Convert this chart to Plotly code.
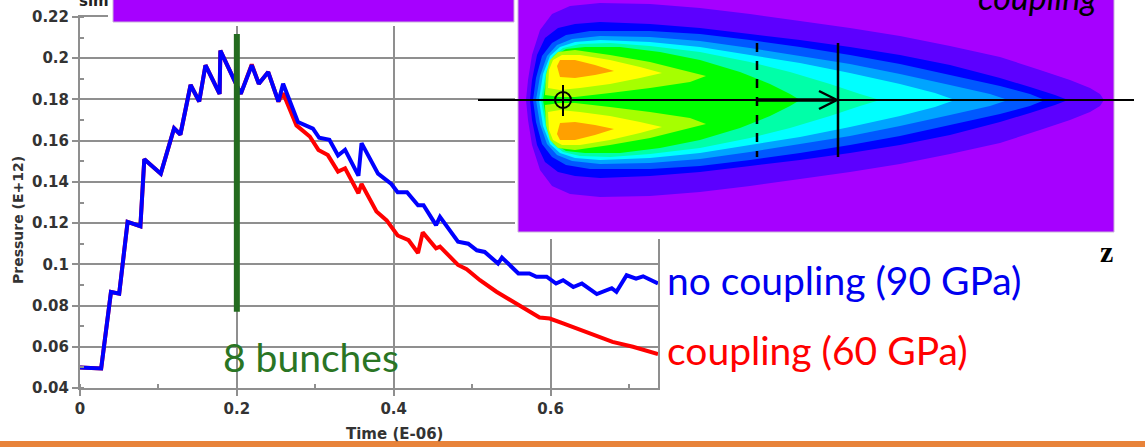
import plotly.graph_objects as go

# ---------------- chart data ----------------
time_no_coupling = [0, 0.027, 0.0395, 0.05, 0.0607, 0.077, 0.082, 0.103, 0.12, 0.128, 0.141, 0.152,
                    0.160, 0.178, 0.179, 0.198, 0.205, 0.219, 0.228, 0.240, 0.253, 0.259, 0.278,
                    0.297, 0.305, 0.318, 0.329, 0.338, 0.355, 0.359, 0.380, 0.397, 0.405, 0.417,
                    0.431, 0.438, 0.454, 0.459, 0.482, 0.495, 0.506, 0.516, 0.533, 0.538, 0.559,
                    0.573, 0.582, 0.595, 0.607, 0.616, 0.629, 0.640, 0.659, 0.678, 0.684, 0.697,
                    0.709, 0.718, 0.737]
pressure_no_coupling = [0.050, 0.0495, 0.0866, 0.0858, 0.1206, 0.1185, 0.151, 0.144, 0.166, 0.163,
                        0.187, 0.179, 0.1966, 0.1827, 0.2037, 0.1876, 0.1827, 0.1966, 0.1876,
                        0.1933, 0.179, 0.1876, 0.169, 0.1658, 0.1614, 0.1604, 0.1528, 0.1556,
                        0.143, 0.1588, 0.144, 0.139, 0.135, 0.135, 0.1287, 0.1287, 0.119, 0.123,
                        0.111, 0.110, 0.1068, 0.106, 0.1004, 0.1033, 0.0956, 0.0956, 0.094, 0.094,
                        0.0907, 0.0923, 0.089, 0.0907, 0.0856, 0.0884, 0.0867, 0.0947, 0.0931,
                        0.0942, 0.0907]
time_coupling = [0, 0.027, 0.0395, 0.05, 0.0607, 0.077, 0.082, 0.103, 0.12, 0.128, 0.141, 0.152,
                 0.160, 0.178, 0.179, 0.198, 0.205, 0.219, 0.228, 0.240, 0.253, 0.259, 0.276,
                 0.293, 0.304, 0.316, 0.329, 0.338, 0.355, 0.359, 0.378, 0.391, 0.405, 0.419,
                 0.431, 0.437, 0.454, 0.459, 0.482, 0.493, 0.510, 0.531, 0.548, 0.570, 0.586,
                 0.599, 0.616, 0.633, 0.654, 0.679, 0.705, 0.737]
pressure_coupling = [0.050, 0.0495, 0.0866, 0.0858, 0.1206, 0.1185, 0.151, 0.144, 0.166, 0.163,
                     0.187, 0.179, 0.1966, 0.1827, 0.2037, 0.1876, 0.1827, 0.197, 0.1876, 0.1933,
                     0.179, 0.183, 0.1674, 0.162, 0.1555, 0.153, 0.145, 0.1466, 0.1345, 0.139,
                     0.1256, 0.1213, 0.114, 0.1117, 0.1055, 0.1155, 0.1078, 0.1086, 0.0997,
                     0.0976, 0.0923, 0.0867, 0.0826, 0.0778, 0.0742, 0.0737, 0.0713, 0.0689,
                     0.0657, 0.0624, 0.0600, 0.0565]
bunch_marker_time = [0.2, 0.2]
bunch_marker_pressure = [0.077, 0.2117]

label_no_coupling = "no coupling (90 GPa)"
label_coupling = "coupling (60 GPa)"
label_bunches = "8 bunches"

# ---------------- inset picture (contour bands, in slide pixels) ----------------
band_xs = [
    [526, 528, 532, 540, 552, 570, 600, 650, 700, 750, 800, 850, 900, 950, 1000, 1040, 1070, 1090, 1100, 1104],
    [530, 532, 537, 545, 558, 575, 600, 650, 700, 750, 800, 850, 900, 950, 1000, 1030, 1055, 1068],
    [533, 536, 542, 552, 566, 590, 650, 700, 750, 800, 850, 900, 950, 1000, 1030, 1045],
    [536, 540, 547, 557, 572, 600, 650, 700, 750, 800, 850, 900, 950, 990, 1008],
    [539, 543, 550, 560, 575, 600, 650, 700, 750, 800, 850, 900, 935, 955],
    [541, 546, 553, 563, 580, 610, 650, 700, 750, 790, 830, 860, 880],
    [543, 548, 556, 566, 585, 620, 660, 700, 740, 770, 790, 800],
]
band_tops = [
    [100, 80, 55, 30, 14, 6, 3, 4, 8, 14, 21, 28, 36, 46, 57, 70, 80, 88, 94, 100],
    [100, 80, 55, 38, 28, 24, 22, 24, 28, 34, 40, 47, 55, 65, 78, 87, 95, 100],
    [100, 78, 56, 43, 35, 31, 31, 34, 40, 47, 55, 64, 75, 86, 94, 100],
    [100, 76, 56, 45, 39, 36, 37, 41, 48, 56, 64, 74, 85, 94, 100],
    [100, 74, 56, 47, 42, 40, 42, 47, 55, 63, 73, 84, 93, 100],
    [100, 72, 56, 48, 44, 43, 46, 52, 62, 72, 84, 94, 100],
    [100, 70, 55, 49, 47, 47, 52, 60, 72, 84, 94, 100],
]
band_colors = ["#5c00ff", "#0000ff", "#0058ff", "#00a4ff", "#00ffff", "#00ffa8", "#00ff00"]

lobe_xs = [
    [545, 546, 550, 558, 575, 610, 650, 690, 706, 690, 650, 610, 575, 560],
    [548, 549, 553, 562, 580, 610, 640, 662, 640, 610, 580, 560],
    [557, 560, 575, 595, 614, 595, 575, 560],
]
lobe_ys = [
    [95, 75, 60, 52, 50, 55, 62, 72, 76, 82, 88, 93, 97, 97],
    [88, 70, 60, 55, 55, 60, 67, 73, 78, 84, 88, 90],
    [66, 60, 60, 65, 71, 75, 78, 77],
]
lobe_colors = ["#a6ff00", "#ffff00", "#ffa000"]

W, H = 1145, 447


def px(x):
    return x / W


def py(y):
    return 1 - y / H


fig = go.Figure()

# ---------------- main chart ----------------
fig.add_trace(go.Scatter(x=time_coupling, y=pressure_coupling, mode="lines",
                         line=dict(color="#ff0000", width=4), hoverinfo="skip"))
fig.add_trace(go.Scatter(x=time_no_coupling, y=pressure_no_coupling, mode="lines",
                         line=dict(color="#0000ff", width=4), hoverinfo="skip"))
fig.add_trace(go.Scatter(x=bunch_marker_time, y=bunch_marker_pressure, mode="lines",
                         line=dict(color="#236b1f", width=6), hoverinfo="skip"))

# ---------------- slide decorations / inset as shapes ----------------
shapes = []


def poly(xs, ys, fill, line_w=0, line_c="rgba(0,0,0,0)"):
    d = "M " + " L ".join(f"{px(x):.5f},{py(y):.5f}" for x, y in zip(xs, ys)) + " Z"
    shapes.append(dict(type="path", path=d, xref="paper", yref="paper", fillcolor=fill,
                       line=dict(width=line_w, color=line_c), layer="above"))


def box(x0, x1, y0, y1, fill, line_w=0, line_c="rgba(0,0,0,0)"):
    shapes.append(dict(type="rect", xref="paper", yref="paper", x0=px(x0), x1=px(x1),
                       y0=py(y1), y1=py(y0), fillcolor=fill,
                       line=dict(width=line_w, color=line_c), layer="above"))


def seg(x0, y0, x1, y1, w, c="black", dash="solid"):
    shapes.append(dict(type="line", xref="paper", yref="paper", x0=px(x0), x1=px(x1),
                       y0=py(y0), y1=py(y1), line=dict(width=w, color=c, dash=dash), layer="above"))


box(515, 1120, -5, 239, "white")
box(108, 515, -5, 26, "white")
box(113, 514, -5, 22, "#a600ff", 1, "#c9b3d9")
box(518, 1114, -5, 232, "#a600ff", 1, "#c9b3d9")

for bx, bt, col in zip(band_xs, band_tops, band_colors):
    poly(bx + bx[::-1], bt + [200 - v for v in bt[::-1]], col)

for lx, ly, col in zip(lobe_xs, lobe_ys, lobe_colors):
    poly(lx, ly, col)
    poly(lx, [200 - v for v in ly], col)

seg(478, 100, 1134, 100, 2)
seg(757, 100, 834, 100, 3.5)
seg(819, 91, 837, 100, 2.5)
seg(837, 100, 819, 109, 2.5)
seg(757, 43, 757, 157, 2.5, dash="dash")
seg(838, 43, 838, 157, 2.5)
seg(563, 85, 563, 116, 2)
shapes.append(dict(type="circle", xref="paper", yref="paper", x0=px(555), x1=px(571),
                   y0=py(108), y1=py(92), line=dict(width=2, color="black"), layer="above"))

box(-5, 1150, 441, 452, "#e8833a")

axis_font = dict(family="DejaVu Sans", size=15, color="#333333", weight="bold")
grid_col = "#8f8f8f"

fig.update_layout(
    width=W, height=H, autosize=False,
    margin=dict(l=0, r=0, t=0, b=0, autoexpand=False),
    paper_bgcolor="white", plot_bgcolor="white",
    showlegend=False, hovermode=False,
    shapes=shapes,
    xaxis=dict(domain=[px(80), px(658)], range=[0, 0.737], tickmode="linear", tick0=0, dtick=0.2,
               showgrid=True, gridcolor=grid_col, gridwidth=1.5, zeroline=False,
               showline=True, linecolor=grid_col, linewidth=2, mirror=True,
               ticks="outside", ticklen=6, tickcolor=grid_col, tickwidth=1.5,
               minor=dict(dtick=0.1, ticks="inside", ticklen=4, tickcolor=grid_col, showgrid=False),
               tickfont=axis_font, fixedrange=True),
    yaxis=dict(domain=[py(388), py(17)], range=[0.04, 0.22], tickmode="linear",
               tick0=0.04, dtick=0.02,
               showgrid=True, gridcolor=grid_col, gridwidth=1.5, zeroline=False,
               showline=True, linecolor=grid_col, linewidth=2, mirror=True,
               ticks="outside", ticklen=6, tickcolor=grid_col, tickwidth=1.5,
               minor=dict(dtick=0.01, ticks="inside", ticklen=4, tickcolor=grid_col, showgrid=False),
               tickfont=axis_font, fixedrange=True),
)


def note(text, x, y, size, color, family="Lato", xanchor="left", yanchor="middle", angle=0, **kw):
    fig.add_annotation(text=text, x=px(x), y=py(y), xref="paper", yref="paper", showarrow=False,
                       xanchor=xanchor, yanchor=yanchor, textangle=angle,
                       font=dict(family=family, size=size, color=color, **kw))


note(label_bunches, 221, 357, 39, "#2a7524")
note(label_no_coupling, 665, 280, 39, "#0000f0")
note(label_coupling, 665, 350, 39, "#ff0000")
note("Time (E-06)", 394, 434, 15, "#333333", family="DejaVu Sans", xanchor="center", weight="bold")
note("sim", 94, 1, 15, "#222222", family="DejaVu Sans", xanchor="center", weight="bold")
note("coupling", 1099, -4, 34, "black", xanchor="right", style="italic")
note("z", 1106, 252, 30, "black", family="Liberation Serif", xanchor="center", weight="bold")
note("Pressure (E+12)", 18, 220, 14, "#333333", family="DejaVu Sans", xanchor="center",
     angle=-90, weight="bold")

# remove the browser's default 8px body margin so the figure fills the window
fig.write_html("out.html", config={"displayModeBar": False},
               post_script="document.body.style.margin='0';")
